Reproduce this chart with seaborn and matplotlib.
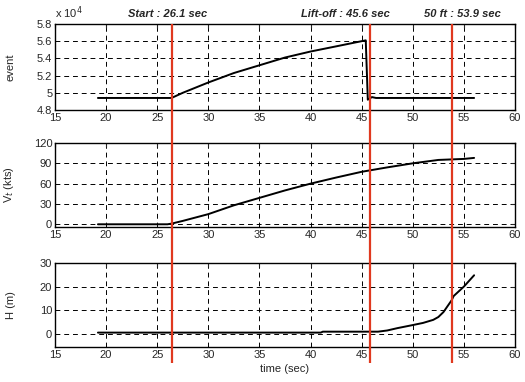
import matplotlib
matplotlib.use("Agg")
import matplotlib.pyplot as plt
import matplotlib.ticker as mticker
import pandas as pd
import seaborn as sns

# event signal (raw units, shown as x 10^4)
t_event = [19.2, 26.4, 27.5, 30.0, 32.5, 35.0, 37.5, 40.0, 42.5, 45.4, 45.6, 46.0, 46.4, 56.0]
event = [49400, 49400, 50000, 51200, 52300, 53200, 54100, 54800, 55400, 56100, 49200, 49500, 49400, 49400]

# true airspeed (kts)
t_vt = [19.2, 26.0, 26.4, 27.5, 30.0, 32.5, 35.0, 37.5, 40.0, 42.5, 45.0, 47.5, 50.0, 52.5, 55.0, 56.0]
vt = [0, 0, 1, 5, 15, 28, 39, 50, 60, 69, 77.5, 84, 90, 95, 96.5, 98]

# height (m)
t_h = [19.2, 30.0, 41.0, 41.2, 46.0, 46.6, 47.5, 48.5, 50.0, 51.0, 52.0, 52.5, 53.0, 53.8, 54.0,
       55.0, 56.0]
h = [0.5, 0.5, 0.5, 0.9, 0.9, 0.9, 1.4, 2.4, 3.7, 4.6, 5.9, 7.1, 9.2, 14.2, 16.0, 20.0, 24.8]

marker_times = [26.4, 45.8, 53.8]
marker_titles = ["Start : 26.1 sec", "Lift-off : 45.6 sec", "50 ft : 53.9 sec"]
title_x = [168, 345, 462]

x_ticks = [15, 20, 25, 30, 35, 40, 45, 50, 55, 60]

sns.set_style("white")
plt.rcParams['font.family'] = ['Liberation Sans', 'DejaVu Sans']
plt.rcParams['font.size'] = 8

W, H = 525, 382
fig = plt.figure(figsize=(W / 100, H / 100), dpi=100)


def box(left, top, right, bottom):
    return [left / W, 1 - bottom / H, (right - left) / W, (bottom - top) / H]


ax1 = fig.add_axes(box(55, 24, 515, 110))
ax2 = fig.add_axes(box(55, 143, 515, 227))
ax3 = fig.add_axes(box(55, 263, 515, 347))

df_event = pd.DataFrame({"t": t_event, "v": event})
df_vt = pd.DataFrame({"t": t_vt, "v": vt})
df_h = pd.DataFrame({"t": t_h, "v": h})

for ax, df in [(ax1, df_event), (ax2, df_vt), (ax3, df_h)]:
    sns.lineplot(data=df, x="t", y="v", ax=ax, color="black", linewidth=1.4,
                 estimator=None, sort=False)
    ax.set_xlim(15, 60)
    ax.set_xticks(x_ticks)
    ax.grid(True, color="black", linestyle=(0, (5, 4)), linewidth=0.7)
    ax.tick_params(direction="in", top=True, right=True, length=3, labelsize=8, pad=2)
    for s in ax.spines.values():
        s.set_color("black")
        s.set_linewidth(1.0)
    ax.set_xlabel("")

ax1.set_ylim(48000, 58000)
ax1.set_yticks([48000, 50000, 52000, 54000, 56000, 58000])
ax1.yaxis.set_major_formatter(mticker.FuncFormatter(lambda v, p: f"{v / 1e4:g}"))
ax1.set_ylabel("event", fontsize=8)
ax1.text(0.0, 1.03, r"x 10$^4$", transform=ax1.transAxes, fontsize=8, ha="left", va="bottom")

ax2.set_ylim(-4, 120)
ax2.set_yticks([0, 30, 60, 90, 120])
ax2.set_ylabel(r"V$_t$ (kts)", fontsize=8)

ax3.set_ylim(-5.6, 30)
ax3.set_yticks([0, 10, 20, 30])
ax3.set_ylabel("H (m)", fontsize=8)
ax3.set_xlabel("time (sec)", fontsize=8, labelpad=3)

for ax in (ax1, ax2, ax3):
    ax.yaxis.set_label_coords(-0.085, 0.5)

# overlay for the red event markers spanning all panels
over = fig.add_axes(box(55, 24, 515, 363))
over.set_xlim(15, 60)
over.set_ylim(0, 1)
over.axis("off")
over.patch.set_alpha(0)
for t in marker_times:
    over.axvline(t, color="#e0391f", linewidth=1.6)

for txt, x in zip(marker_titles, title_x):
    fig.text(x / W, 1 - 14 / H, txt, ha="center", va="center", fontsize=8,
             fontweight="bold", fontstyle="italic")

fig.savefig("out.png", dpi=100)
